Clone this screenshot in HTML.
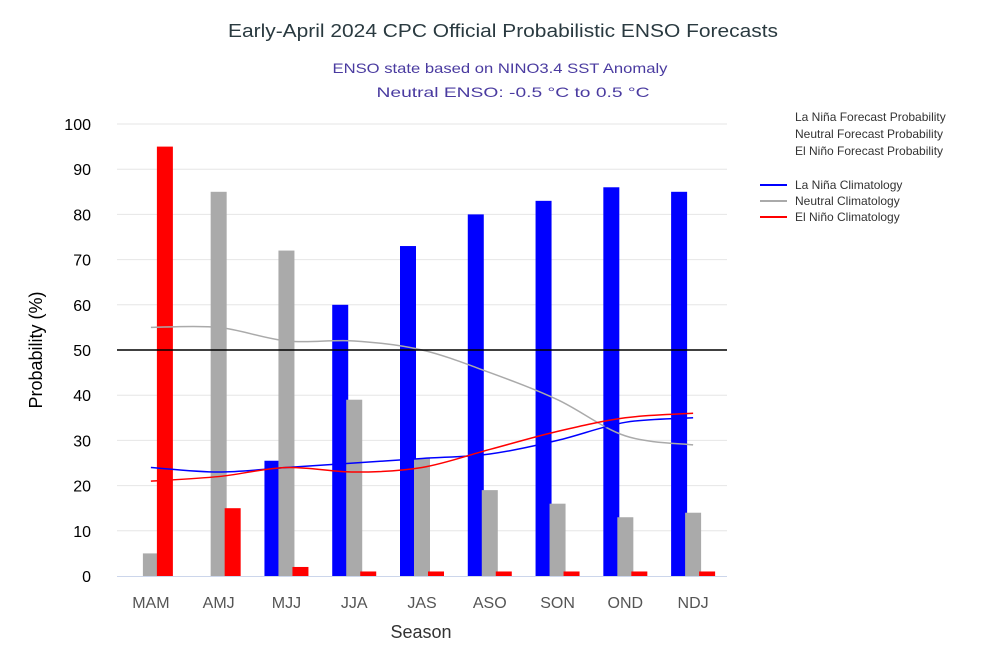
<!DOCTYPE html>
<html><head><meta charset="utf-8">
<style>
html,body{margin:0;padding:0;background:#fff;}
svg{display:block;font-family:"Liberation Sans",sans-serif;}
</style></head>
<body>
<svg id="chart" width="1000" height="668" viewBox="0 0 1000 668" xmlns="http://www.w3.org/2000/svg">
<text x="503" y="37" text-anchor="middle" font-size="18" fill="#2a3a40" textLength="550" lengthAdjust="spacingAndGlyphs">Early-April 2024 CPC Official Probabilistic ENSO Forecasts</text>
<text x="500" y="73" text-anchor="middle" font-size="14" fill="#4a3ba0" textLength="335" lengthAdjust="spacingAndGlyphs">ENSO state based on NINO3.4 SST Anomaly</text>
<text x="513" y="97" text-anchor="middle" font-size="14" fill="#4a3ba0" textLength="273" lengthAdjust="spacingAndGlyphs">Neutral ENSO: -0.5 °C to 0.5 °C</text>
<g id="grid"></g>
<g id="bars"></g>
<g id="lines"></g>
<g id="axes"></g>
<text transform="translate(42,350) rotate(-90)" text-anchor="middle" font-size="18" fill="#000">Probability (%)</text>
<text x="421" y="638" text-anchor="middle" font-size="18" fill="#333">Season</text>
<g font-size="12" fill="#333">
<text x="795" y="121">La Niña Forecast Probability</text>
<text x="795" y="138">Neutral Forecast Probability</text>
<text x="795" y="155">El Niño Forecast Probability</text>
<line x1="760" y1="185" x2="787" y2="185" stroke="#0000ff" stroke-width="2"/>
<text x="795" y="189">La Niña Climatology</text>
<line x1="760" y1="201" x2="787" y2="201" stroke="#aaaaaa" stroke-width="2"/>
<text x="795" y="205">Neutral Climatology</text>
<line x1="760" y1="217" x2="787" y2="217" stroke="#ff0000" stroke-width="2"/>
<text x="795" y="221">El Niño Climatology</text>
</g>
</svg>
<script>
const categories = ["MAM","AMJ","MJJ","JJA","JAS","ASO","SON","OND","NDJ"];
const laNinaProb = [0,0,25.5,60,73,80,83,86,85];
const neutralProb = [5,85,72,39,26,19,16,13,14];
const elNinoProb = [95,15,2,1,1,1,1,1,1];
const laNinaClim = [24,23,24,25,26,27,30,34,35];
const neutralClim = [55,55,52,52,50,45,39,31,29];
const elNinoClim = [21,22,24,23,24,28,32,35,36];
const yTicks = [0,10,20,30,40,50,60,70,80,90,100];

const NS = "http://www.w3.org/2000/svg";
const X0 = 117, X1 = 727, Y0 = 576, Y1 = 124;
const band = (X1 - X0) / categories.length;
function xC(i){ return X0 + (i + 0.5) * band; }
function yS(v){ return Y0 - (v / 100) * (Y0 - Y1); }
function mk(tag, attrs, parent){
  const e = document.createElementNS(NS, tag);
  for (const k in attrs) e.setAttribute(k, attrs[k]);
  parent.appendChild(e); return e;
}
const grid = document.getElementById('grid');
const axes = document.getElementById('axes');
yTicks.forEach(t => {
  if (t > 0) {
    const g = mk('line', {x1:X0, x2:X1, y1:yS(t), y2:yS(t), stroke:'#e6e6e6', 'stroke-width':1}, grid);
    
    
  }
  const lb = mk('text', {x:91, y:yS(t)+6, 'text-anchor':'end', 'font-size':16, fill:'#000'}, axes);
  lb.textContent = t;
  
  
});
const bars = document.getElementById('bars');
const series = [[laNinaProb,'#0000ff',-14,'lanina'],[neutralProb,'#aaaaaa',0,'neutral'],[elNinoProb,'#ff0000',14,'elnino']];
const bw = 16;
series.forEach(s => {
  s[0].forEach((v,i) => {
    if (v <= 0) return;
    const r = mk('rect', {x:xC(i)+s[2]-bw/2, y:yS(v), width:bw, height:Y0-yS(v), fill:s[1]}, bars);
    
    
  });
});
const fifty = mk('line', {x1:X0, x2:X1, y1:yS(50), y2:yS(50), stroke:'#000', 'stroke-width':1.5}, axes);


const xa = mk('line', {x1:X0, x2:X1, y1:Y0+0.5, y2:Y0+0.5, stroke:'#ccd6eb', 'stroke-width':1}, axes);


categories.forEach((c,i) => {
  const t = mk('text', {x:xC(i), y:608, 'text-anchor':'middle', 'font-size':16, fill:'#555'}, axes);
  t.textContent = c;
  
  
});
const lines = document.getElementById('lines');
function smooth(vals){
  const p = vals.map((v,i) => [xC(i), yS(v)]);
  let d = 'M' + p[0][0] + ',' + p[0][1];
  for (let i = 0; i < p.length - 1; i++) {
    const p0 = p[Math.max(i-1,0)], p1 = p[i], p2 = p[i+1], p3 = p[Math.min(i+2,p.length-1)];
    const c1 = [p1[0] + (p2[0]-p0[0])/6, p1[1] + (p2[1]-p0[1])/6];
    const c2 = [p2[0] - (p3[0]-p1[0])/6, p2[1] - (p3[1]-p1[1])/6];
    d += ' C' + c1[0] + ',' + c1[1] + ' ' + c2[0] + ',' + c2[1] + ' ' + p2[0] + ',' + p2[1];
  }
  return d;
}
[[neutralClim,'#aaaaaa','neutral'],[laNinaClim,'#0000ff','lanina'],[elNinoClim,'#ff0000','elnino']].forEach(s => {
  const pth = mk('path', {d:smooth(s[0]), fill:'none', stroke:s[1], 'stroke-width':1.5}, lines);
  
  
});
</script>
</body></html>
